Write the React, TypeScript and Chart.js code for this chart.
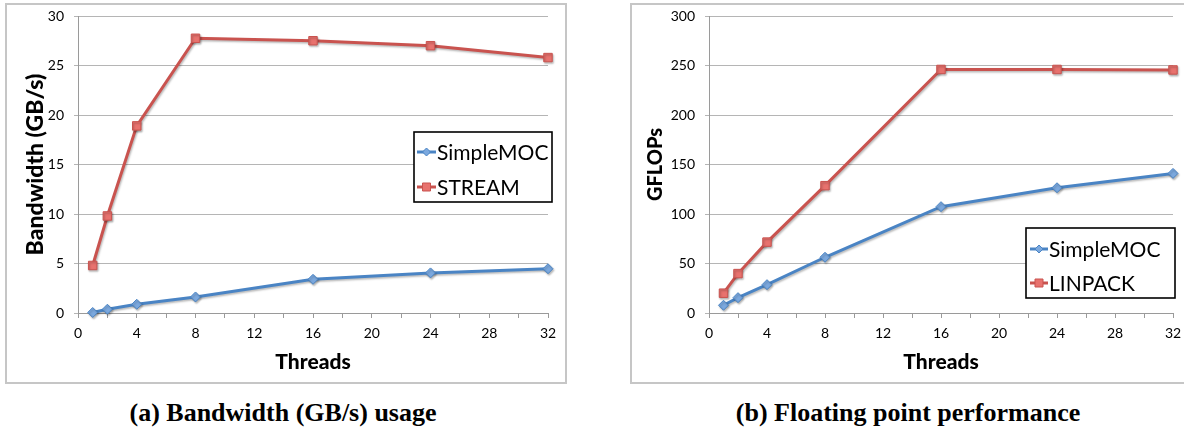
import React, { useEffect, useRef } from 'react';
import { Chart, registerables } from 'chart.js';

Chart.register(...registerables);

// ---- data ----
const threads = [1, 2, 4, 8, 16, 24, 32];
const simpleMocBandwidth = [0.05, 0.38, 0.88, 1.62, 3.4, 4.05, 4.47];
const streamBandwidth = [4.8, 9.8, 18.9, 27.75, 27.5, 27.0, 25.8];
const simpleMocGflops = [7.8, 15.5, 28.6, 56.3, 107.4, 126.5, 141];
const linpackGflops = [20, 39.8, 71.6, 128.6, 246, 246, 245.5];
const xTickStep = 2;
const xLabelStep = 4;
const bandwidthRange = [0, 30, 5];
const gflopsRange = [0, 300, 50];

const BLUE = '#4a84c4';
const BLUE_FILL = '#7ba8de';
const RED = '#c9534f';
const RED_FILL = '#e8726e';
const FONT = 'Lato';

const shadowPlugin = {
  id: 'softShadow',
  beforeDatasetsDraw(chart: any) {
    const ctx = chart.ctx;
    ctx.save();
    ctx.shadowColor = 'rgba(0,0,0,0.28)';
    ctx.shadowBlur = 2;
    ctx.shadowOffsetX = 1;
    ctx.shadowOffsetY = 1.5;
  },
  afterDatasetsDraw(chart: any) {
    chart.ctx.restore();
  },
};

const boxLegendPlugin = {
  id: 'boxLegend',
  afterDraw(chart: any, _args: any, opts: any) {
    const ctx = chart.ctx;
    const { x, y, w, h, rows, swatchStart, swatchEnd, textX } = opts;
    ctx.save();
    ctx.fillStyle = '#fff';
    ctx.fillRect(x, y, w, h);
    ctx.strokeStyle = '#000';
    ctx.lineWidth = 1.6;
    ctx.strokeRect(x, y, w, h);
    chart.data.datasets.forEach((ds: any, i: number) => {
      const cy = y + rows[i];
      ctx.strokeStyle = ds.borderColor;
      ctx.lineWidth = 3;
      ctx.beginPath();
      ctx.moveTo(x + swatchStart, cy);
      ctx.lineTo(x + swatchEnd, cy);
      ctx.stroke();
      const mx = x + (swatchStart + swatchEnd) / 2;
      ctx.fillStyle = ds.pointBackgroundColor;
      ctx.strokeStyle = ds.pointBorderColor;
      ctx.lineWidth = 1;
      ctx.beginPath();
      if (ds.pointStyle === 'rectRot') {
        const r = 4;
        ctx.moveTo(mx, cy - r);
        ctx.lineTo(mx + r, cy);
        ctx.lineTo(mx, cy + r);
        ctx.lineTo(mx - r, cy);
        ctx.closePath();
      } else {
        const s = 4;
        ctx.rect(mx - s, cy - s, 2 * s, 2 * s);
      }
      ctx.fill();
      ctx.stroke();
      ctx.fillStyle = '#000';
      ctx.font = `21px ${FONT}`;
      ctx.textBaseline = 'middle';
      ctx.textAlign = 'left';
      ctx.fillText(ds.label, x + textX, cy + 1);
    });
    ctx.restore();
  },
};

function makeConfig(opts: {
  blue: number[];
  red: number[];
  redLabel: string;
  yTitle: string;
  yTitleSize: number;
  yRange: number[];
  yWidth: number;
  yTitlePad: number;
  rightPad: number;
  legend: any;
}) {
  return {
    type: 'line' as const,
    data: {
      datasets: [
        {
          label: 'SimpleMOC',
          data: threads.map((t, i) => ({ x: t, y: opts.blue[i] })),
          borderColor: BLUE,
          borderWidth: 3,
          pointStyle: 'rectRot',
          pointRadius: 5,
          pointBackgroundColor: BLUE_FILL,
          pointBorderColor: BLUE,
          pointBorderWidth: 1,
          tension: 0,
          clip: false,
        },
        {
          label: opts.redLabel,
          data: threads.map((t, i) => ({ x: t, y: opts.red[i] })),
          borderColor: RED,
          borderWidth: 3,
          pointStyle: 'rect',
          pointRadius: 6,
          pointBackgroundColor: RED_FILL,
          pointBorderColor: RED,
          pointBorderWidth: 1,
          tension: 0,
          clip: false,
        },
      ],
    },
    options: {
      responsive: false,
      animation: false,
      devicePixelRatio: 1,
      layout: { padding: { top: 11, right: opts.rightPad, left: 0, bottom: 0 } },
      plugins: {
        legend: { display: false },
        tooltip: { enabled: false },
        boxLegend: opts.legend,
      },
      scales: {
        x: {
          type: 'linear',
          min: 0,
          max: threads[threads.length - 1],
          afterFit: (s: any) => {
            s.height = 69;
            s.paddingLeft = 0;
            s.paddingRight = 0;
          },
          ticks: {
            stepSize: xTickStep,
            autoSkip: false,
            maxRotation: 0,
            padding: 7,
            color: '#000',
            font: { family: FONT, size: 14 },
            callback: (v: any) => (Number(v) % xLabelStep === 0 ? String(v) : ''),
          },
          grid: {
            drawOnChartArea: false,
            drawTicks: true,
            tickLength: 5,
            color: '#9a9a9a',
          },
          border: { display: true, color: '#9a9a9a', width: 1 },
          title: {
            display: true,
            text: 'Threads',
            color: '#000',
            font: { family: FONT, size: 21, weight: 900 },
            padding: { top: 0, bottom: 7 },
          },
        },
        y: {
          type: 'linear',
          min: opts.yRange[0],
          max: opts.yRange[1],
          afterFit: (s: any) => {
            s.width = opts.yWidth;
            s.paddingTop = 0;
            s.paddingBottom = 0;
          },
          ticks: {
            stepSize: opts.yRange[2],
            padding: 10,
            color: '#000',
            font: { family: FONT, size: 14 },
          },
          grid: {
            color: '#b5b5b5',
            tickLength: 4,
            lineWidth: 1,
          },
          border: { display: true, color: '#9a9a9a', width: 1 },
          title: {
            display: true,
            text: opts.yTitle,
            color: '#000',
            font: { family: FONT, size: opts.yTitleSize, weight: 900 },
            padding: { top: opts.yTitlePad, bottom: 0 },
          },
        },
      },
    },
    plugins: [shadowPlugin, boxLegendPlugin],
  };
}

function ChartCanvas({ config, width, height }: { config: any; width: number; height: number }) {
  const ref = useRef<HTMLCanvasElement | null>(null);
  useEffect(() => {
    if (!ref.current) return;
    const chart = new Chart(ref.current, config);
    return () => chart.destroy();
  }, [config]);
  return <canvas ref={ref} width={width} height={height} style={{ display: 'block', width, height }} />;
}

const configA = makeConfig({
  blue: simpleMocBandwidth,
  red: streamBandwidth,
  redLabel: 'STREAM',
  yTitle: 'Bandwidth (GB/s)',
  yTitleSize: 23,
  yRange: bandwidthRange,
  yWidth: 71,
  yTitlePad: 15,
  rightPad: 17,
  legend: { x: 407, y: 127, w: 138, h: 70, rows: [20, 55], swatchStart: 3, swatchEnd: 22, textX: 23 },
});

const configB = makeConfig({
  blue: simpleMocGflops,
  red: linpackGflops,
  redLabel: 'LINPACK',
  yTitle: 'GFLOPs',
  yTitleSize: 20,
  yRange: gflopsRange,
  yWidth: 77,
  yTitlePad: 12,
  rightPad: 11,
  legend: { x: 394, y: 223, w: 149, h: 70, rows: [21, 55], swatchStart: 4, swatchEnd: 22, textX: 23 },
});

const frame: React.CSSProperties = {
  position: 'absolute',
  top: 3,
  height: 381,
  border: '2px solid #c6c6c6',
  boxSizing: 'border-box',
  background: '#fff',
};

const caption: React.CSSProperties = {
  position: 'absolute',
  top: 398,
  textAlign: 'center',
  fontFamily: '"Liberation Serif", "Times New Roman", serif',
  fontWeight: 'bold',
  fontSize: 26,
  lineHeight: '30px',
  color: '#000',
  whiteSpace: 'nowrap',
};

export default function App() {
  return (
    <div
      style={{
        position: 'absolute',
        left: 0,
        top: 0,
        width: 1184,
        height: 431,
        overflow: 'hidden',
        background: '#fff',
      }}
    >
      <div style={{ ...frame, left: 5, width: 562 }}>
        <ChartCanvas config={configA} width={558} height={377} />
      </div>
      <div style={{ ...frame, left: 630, width: 556 }}>
        <ChartCanvas config={configB} width={552} height={377} />
      </div>
      <div style={{ ...caption, left: 0, width: 566 }}>(a) Bandwidth (GB/s) usage</div>
      <div style={{ ...caption, left: 630, width: 556 }}>(b) Floating point performance</div>
    </div>
  );
}
